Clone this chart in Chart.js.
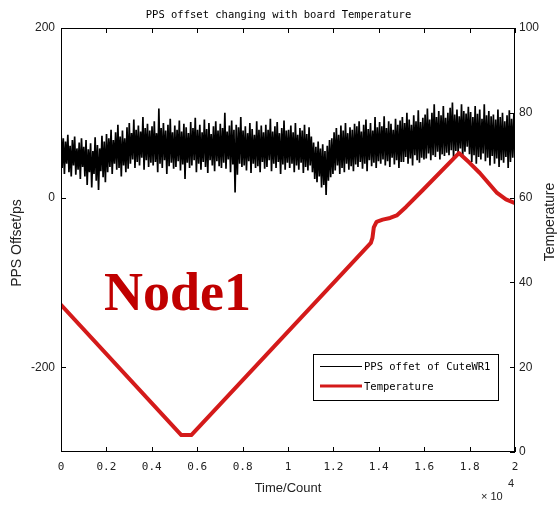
<!DOCTYPE html>
<html><head><meta charset="utf-8">
<script src="https://cdn.jsdelivr.net/npm/chart.js@4"></script>
<style>html,body{margin:0;padding:0;background:#fff;} #c{display:block;}</style>
</head><body>
<canvas id="c" width="557" height="506"></canvas>
<script>
const titleText = 'PPS offset changing with board Temperature';
const xTitle = 'Time/Count';
const yTitle = 'PPS Offset/ps';
const y1Title = 'Temperature';
const annotationText = 'Node1';
const xTicks = [0, 2000, 4000, 6000, 8000, 10000, 12000, 14000, 16000, 18000, 20000];
const xTickLabels = ['0', '0.2', '0.4', '0.6', '0.8', '1', '1.2', '1.4', '1.6', '1.8', '2'];
const yTicks = [-200, 0, 200];
const y1Ticks = [0, 20, 40, 60, 80, 100];
const ppsLabel = 'PPS offet of CuteWR1';
const tempLabel = 'Temperature';
const ppsStart = 0, ppsEnd = 20000;
const ppsOffset = [
 82,35,70,28,66,40,74,30,61,25,68,38,72,27,58,33,65,22,70,36,
 60,25,68,15,57,30,64,12,55,28,71,20,62,9,58,31,73,24,66,18,
 75,30,70,36,80,28,68,40,77,33,86,35,72,25,79,38,70,30,83,34,
 88,40,76,45,92,35,80,42,85,38,78,47,95,33,82,44,87,36,79,41,
 84,38,90,42,76,30,105,40,82,35,88,44,79,28,86,37,93,41,77,34,
 85,36,80,43,91,32,78,39,87,22,83,41,76,35,89,38,82,44,94,30,
 80,40,86,33,77,42,92,36,81,29,88,44,75,38,84,31,90,43,79,37,
 87,35,82,41,100,34,78,45,85,30,91,39,80,6,86,27,83,40,95,36,
 79,38,84,32,76,43,88,29,81,40,74,35,90,37,80,30,85,42,77,34,
 86,36,80,44,93,31,78,40,84,35,89,42,76,28,82,39,91,33,79,41,
 80,35,85,40,77,30,88,38,74,33,82,41,79,29,86,36,75,32,83,38,
 72,30,65,22,60,18,66,25,58,12,63,15,55,3,61,20,68,24,70,28,
 77,32,82,38,74,28,85,35,79,30,88,40,76,33,83,37,80,31,87,39,
 84,36,90,42,78,34,86,40,92,31,81,44,88,37,79,41,95,35,83,43,
 89,40,84,45,96,38,82,43,90,36,87,47,80,39,93,44,86,35,91,42,
 95,42,88,48,100,40,92,46,86,38,97,50,90,44,103,41,89,47,94,45,
 98,46,105,52,92,44,100,50,110,48,95,54,102,45,97,51,108,49,94,53,
 100,50,106,56,112,48,98,55,104,52,96,58,110,47,102,54,99,60,107,51,
 101,42,95,50,108,40,99,48,104,45,93,52,110,43,97,47,102,38,96,49,
 98,40,92,46,104,36,95,44,100,41,90,48,97,35,103,42,93,47,99,40
];
const tempTime = [0, 5300, 5740, 12500, 13650, 13720, 13780, 13900, 14170, 14500, 14790, 15200, 15940, 17530, 18000, 18450, 19210, 19600, 20000];
const tempValue = [34.7, 4.0, 4.0, 42.7, 49.3, 50.5, 53.0, 54.3, 54.8, 55.2, 55.8, 57.8, 61.8, 70.5, 68.2, 65.8, 61.1, 59.6, 58.7];

const ppsData = ppsOffset.map((v, i) => ({x: ppsStart + i * (ppsEnd - ppsStart) / (ppsOffset.length - 1), y: v}));
const tempData = tempTime.map((t, i) => ({x: t, y: tempValue[i]}));

const TICK_LEN = 5;
const decorPlugin = {
  id: 'decor',
  afterDatasetsDraw(chart) {
    const ctx = chart.ctx, a = chart.chartArea;
    const sx = chart.scales.x, sy = chart.scales.y, sy1 = chart.scales.y1;
    ctx.save();
    ctx.strokeStyle = '#000';
    ctx.lineWidth = 1;
    ctx.strokeRect(Math.round(a.left) + 0.5, Math.round(a.top) + 0.5, Math.round(a.right - a.left) - 1, Math.round(a.bottom - a.top) - 1);
    ctx.beginPath();
    xTicks.forEach(v => {
      const px = Math.round(sx.getPixelForValue(v)) + 0.5;
      ctx.moveTo(px, a.bottom); ctx.lineTo(px, a.bottom - TICK_LEN);
      ctx.moveTo(px, a.top); ctx.lineTo(px, a.top + TICK_LEN);
    });
    yTicks.forEach(v => {
      const py = Math.round(sy.getPixelForValue(v)) + 0.5;
      ctx.moveTo(a.left, py); ctx.lineTo(a.left + TICK_LEN, py);
    });
    y1Ticks.forEach(v => {
      const py = Math.round(sy1.getPixelForValue(v)) + 0.5;
      ctx.moveTo(a.right, py); ctx.lineTo(a.right - TICK_LEN, py);
    });
    ctx.stroke();

    // axis titles
    ctx.fillStyle = '#222';
    ctx.font = '13px "Liberation Sans", Arial, sans-serif';
    ctx.textAlign = 'center';
    ctx.textBaseline = 'middle';
    ctx.fillText(xTitle, (a.left + a.right) / 2, 488);
    ctx.save();
    ctx.translate(17, 243);
    ctx.rotate(-Math.PI / 2);
    ctx.font = '14px "Liberation Sans", Arial, sans-serif';
    ctx.fillText(yTitle, 0, 0);
    ctx.restore();
    ctx.save();
    ctx.translate(550, 222);
    ctx.rotate(-Math.PI / 2);
    ctx.font = '14px "Liberation Sans", Arial, sans-serif';
    ctx.fillText(y1Title, 0, 0);
    ctx.restore();

    // x 10^4
    ctx.font = '11px "Liberation Sans", Arial, sans-serif';
    ctx.textAlign = 'left';
    ctx.fillText('\u00d7 10', 481, 497);
    ctx.fillText('4', 508, 484);

    // legend
    const lx = 313, ly = 354, lw = 185, lh = 46;
    ctx.fillStyle = '#fff';
    ctx.fillRect(lx, ly, lw, lh);
    ctx.strokeStyle = '#000';
    ctx.lineWidth = 1;
    ctx.strokeRect(lx + 0.5, ly + 0.5, lw, lh);
    const ds = chart.data.datasets;
    const rows = [ {d: ds[1], y: 366, w: 1}, {d: ds[0], y: 386, w: 3} ];
    rows.forEach(r => {
      ctx.strokeStyle = r.d.borderColor;
      ctx.lineWidth = r.w;
      ctx.beginPath();
      const yy = r.w === 1 ? r.y + 0.5 : r.y;
      ctx.moveTo(320, yy); ctx.lineTo(362, yy);
      ctx.stroke();
      ctx.fillStyle = '#000';
      ctx.font = '10.5px "DejaVu Sans Mono", monospace';
      ctx.textBaseline = 'middle';
      ctx.textAlign = 'left';
      ctx.fillText(r.d.label, 364, r.y + 1);
    });

    // annotation
    ctx.fillStyle = '#c00000';
    ctx.font = 'bold 54px "Liberation Serif", "Times New Roman", serif';
    ctx.textBaseline = 'alphabetic';
    ctx.textAlign = 'left';
    ctx.fillText(annotationText, 104, 310);
    ctx.restore();
  }
};

new Chart(document.getElementById('c'), {
  type: 'line',
  data: {
    datasets: [
      { label: tempLabel, data: tempData, yAxisID: 'y1', borderColor: '#d41a1a', borderWidth: 4, pointRadius: 0, tension: 0, order: 0, borderJoinStyle: 'round', borderCapStyle: 'round' },
      { label: ppsLabel, data: ppsData, yAxisID: 'y', borderColor: '#000', borderWidth: 1.7, pointRadius: 0, tension: 0, order: 1 }
    ]
  },
  options: {
    responsive: false,
    animation: false,
    devicePixelRatio: 1,
    layout: { padding: 0 },
    plugins: {
      legend: { display: false },
      tooltip: { enabled: false },
      title: {
        display: true, text: titleText, color: '#000',
        font: { family: '"DejaVu Sans Mono", monospace', size: 10.5, weight: 'normal', lineHeight: 1.2 },
        padding: { top: 9, bottom: 6.4 }
      }
    },
    scales: {
      x: {
        type: 'linear', min: 0, max: 20000,
        grid: { display: false, drawTicks: false }, border: { display: false },
        afterBuildTicks: s => { s.ticks = xTicks.map(v => ({value: v})); },
        afterFit: s => { s.height = 54; },
        ticks: {
          padding: 9, color: '#222', maxRotation: 0, autoSkip: false,
          font: { family: '"DejaVu Sans Mono", monospace', size: 11 },
          callback: v => xTickLabels[xTicks.indexOf(v)]
        }
      },
      y: {
        type: 'linear', position: 'left', min: -300, max: 200,
        grid: { display: false, drawTicks: false }, border: { display: false },
        afterBuildTicks: s => { s.ticks = yTicks.map(v => ({value: v})); },
        afterFit: s => { s.width = 61; },
        ticks: { padding: 6, color: '#222', font: { family: '"Liberation Sans", Arial, sans-serif', size: 12 } }
      },
      y1: {
        type: 'linear', position: 'right', min: 0, max: 100,
        grid: { display: false, drawTicks: false }, border: { display: false },
        afterBuildTicks: s => { s.ticks = y1Ticks.map(v => ({value: v})); },
        afterFit: s => { s.width = 42; },
        ticks: { padding: 4, color: '#222', font: { family: '"Liberation Sans", Arial, sans-serif', size: 12 } }
      }
    }
  },
  plugins: [decorPlugin]
});
</script>
</body></html>
